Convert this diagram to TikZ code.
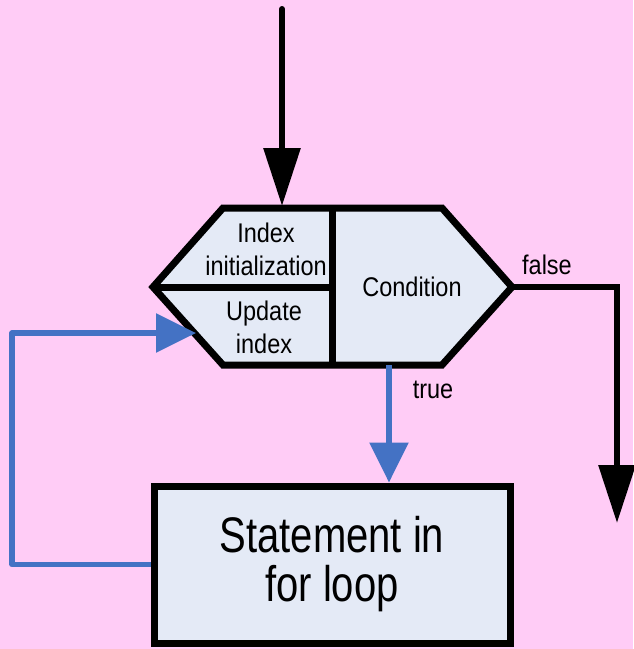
\documentclass[tikz,border=0pt]{standalone}
\usepackage{fontspec}
\setmainfont[FakeStretch=0.87]{Liberation Sans}
\newfontfamily\bodyfont[FakeStretch=0.8]{Liberation Sans}
\usetikzlibrary{arrows.meta}

\definecolor{loopbg}{RGB}{255,204,246}
\definecolor{boxfill}{RGB}{228,234,246}
\definecolor{loopblue}{RGB}{68,114,196}

\begin{document}
\begin{tikzpicture}[x=1pt,y=-1pt]
  \tikzstyle{Frame}=[draw=black,line width=7pt,line join=miter]
  \tikzstyle{SmallText}=[font=\fontsize{27}{33}\selectfont,align=center,inner sep=0pt]
  \tikzstyle{BigText}=[font=\bodyfont\fontsize{50}{49}\selectfont,align=center]
  \tikzstyle{BlackArrow}=[draw=black,line width=6pt,-{Triangle[length=58pt,width=36pt]}]
  \tikzstyle{BlueArrow}=[draw=loopblue,line width=5.5pt,line join=round,-{Triangle[length=40pt,width=38pt]}]
  \fill[loopbg] (0,0) rectangle (633,649);
  \useasboundingbox (0,0) rectangle (633,649);
  % corners of the loop header
  \coordinate (W) at (153,287);
  \coordinate (NW) at (223,208);
  \coordinate (NE) at (442,208);
  \coordinate (E) at (512,287);
  \coordinate (SE) at (442,365);
  \coordinate (SW) at (223,365);
  \coordinate (T) at (332,208);
  \coordinate (B) at (332,365);
  \coordinate (M) at (332,287);
  \filldraw[Frame,fill=boxfill] (W) -- (NW) -- (NE) -- (E) -- (SE) -- (SW) -- cycle;
  \draw[Frame] (T) -- (B);
  \draw[Frame] (W) -- (M);
  \node[SmallText] (Init) at (266,249) {Index\\initialization};
  \node[SmallText] (Update) at (264,327) {Update\\index};
  \node[SmallText] (Cond) at (412,287) {Condition};
  % loop body
  \node[Frame,fill=boxfill,BigText,minimum width=356pt,minimum height=157pt] (Body) at (332,564.5) {Statement in\\for loop};
  % flow
  \coordinate (Entry) at (282,9);
  \coordinate (EntryTip) at (282,206);
  \draw[BlackArrow,line cap=round] (Entry) -- (EntryTip);
  \coordinate (Exit) at (617,523);
  \draw[BlackArrow] (E) -| (Exit);
  \coordinate (TrueStart) at (389,365);
  \draw[BlueArrow] (TrueStart) -- (TrueStart |- Body.north);
  \coordinate (Back) at (12,333);
  \coordinate (BackTip) at (196,333);
  \draw[BlueArrow] (Body.west) -| (Back) -- (BackTip);
  \node[SmallText] (False) at (547,265) {false};
  \node[SmallText] (True) at (433,390) {true};
\end{tikzpicture}
\end{document}
